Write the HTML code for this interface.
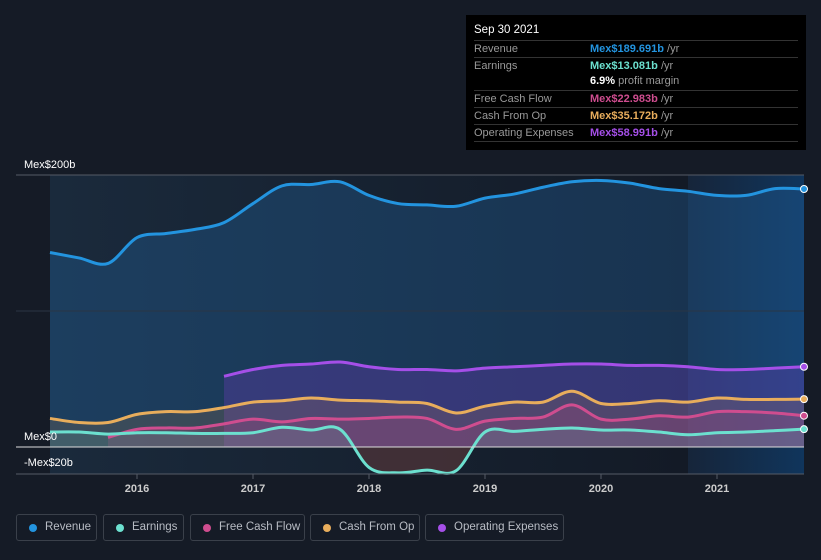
<!DOCTYPE html>
<html><head><meta charset="utf-8"><style>
body{margin:0;background:#151b26;font-family:"Liberation Sans",sans-serif;}
#wrap{position:relative;width:821px;height:560px;overflow:hidden;background:#151b26;}
svg{position:absolute;left:0;top:0}
.tip{position:absolute;left:466px;top:15px;width:340px;height:135px;background:#000;color:#fff;font-size:11px;}
.tip .row{position:absolute;left:8px;width:324px;border-top:1px solid #333;height:16px;line-height:16px;color:#999}
.tip .v{position:absolute;left:116px}
.legend{position:absolute;top:514px;height:27px;border:1px solid #3a404a;border-radius:3px;box-sizing:border-box;color:#b8bcc4;font-size:11.5px;line-height:25px}
.legend i{position:absolute;left:12px;top:9px;width:8px;height:8px;border-radius:50%}
.legend span{position:absolute;left:28px}
</style></head><body>
<div id="wrap">
<svg id="chart" width="821" height="560"></svg>
<div class="tip">
 <div style="position:absolute;left:8px;top:9px;font-size:11.5px">Sep 30 2021</div>
 <div class="row" style="top:25px">Revenue<span class="v"><b style="color:#2394df">Mex$189.691b</b> /yr</span></div>
 <div class="row" style="top:42px">Earnings<span class="v"><b style="color:#6ce0cf">Mex$13.081b</b> /yr</span></div>
 <div class="row" style="top:58px;border-top:none"><span class="v"><b style="color:#fff">6.9%</b> profit margin</span></div>
 <div class="row" style="top:75px">Free Cash Flow<span class="v"><b style="color:#cf4d8f">Mex$22.983b</b> /yr</span></div>
 <div class="row" style="top:92px">Cash From Op<span class="v"><b style="color:#e8ad5c">Mex$35.172b</b> /yr</span></div>
 <div class="row" style="top:109px;border-bottom:1px solid #333">Operating Expenses<span class="v"><b style="color:#a54fe8">Mex$58.991b</b> /yr</span></div>
</div>
<div class="legend" style="left:16px;width:81px"><i style="background:#2394df"></i><span>Revenue</span></div>
<div class="legend" style="left:103px;width:81px"><i style="background:#6ce0cf"></i><span>Earnings</span></div>
<div class="legend" style="left:190px;width:115px"><i style="background:#cf4d8f"></i><span>Free Cash Flow</span></div>
<div class="legend" style="left:310px;width:110px"><i style="background:#e8ad5c"></i><span>Cash From Op</span></div>
<div class="legend" style="left:425px;width:139px"><i style="background:#a54fe8"></i><span>Operating Expenses</span></div>
</div>
<script>
const startYear = 2015.25;
const revenue = [143,139,135,154,157,160,165,179,192,193,195,185,179,178,177,183,186,191,195,196,194,190,188,185,185,190,189.7];
const earnings = [11,11,9.5,10.5,10.5,10,10,10.5,14.5,12.5,13,-15,-19,-17,-17.5,11,11.5,13,14,12.5,12.5,11,9,10.5,11,12,13.1];
const fcfStart = 2015.75;
const fcf = [7,13,14,14,17,20.5,18.5,21,20.5,21,22,21,13,19,21,22,31,20.5,20.5,23,22,26,26,25,23];
const cfo = [21,18,18,24,26,26,29,33,34,36,34.5,34,33,32,25,30,33,33,41,32,32,34,33,36,35,35,35.2];
const opexStart = 2016.75;
const opex = [52,57,60,61,62.5,59,57,57,56,58,59,60,61,61,60,60,59,57,57,58,59];
const yearTicks = [2016,2017,2018,2019,2020,2021];
const yTicks = [200,0,-20];
const yTickLabels = ["Mex$200b","Mex$0","-Mex$20b"];

const NS="http://www.w3.org/2000/svg";
const svg=document.getElementById('chart');
const X=t=>137+(t-2016)*116;
const Y=v=>447-v*1.36;
function el(tag,attrs,parent){const e=document.createElementNS(NS,tag);for(const k in attrs)e.setAttribute(k,attrs[k]);(parent||svg).appendChild(e);return e;}
const defs=el('defs',{});
const g1=el('linearGradient',{id:'bg',x1:0,x2:1,y1:0,y2:0},defs);
el('stop',{offset:0,'stop-color':'#1a2a3c'},g1);el('stop',{offset:1,'stop-color':'#131a26'},g1);
const g2=el('linearGradient',{id:'hl',x1:0,x2:1,y1:0,y2:0},defs);
el('stop',{offset:0,'stop-color':'#16253a'},g2);el('stop',{offset:1,'stop-color':'#10355c'},g2);

let r=el('rect',{x:X(startYear),y:175,width:X(2020.75)-X(startYear),height:299,fill:'url(#bg)'});

r=el('rect',{x:X(2020.75),y:175,width:X(2021.75)-X(2020.75),height:299,fill:'url(#hl)'});


function pts(arr,t0){return arr.map((v,i)=>[X(t0+i*0.25),Y(v)]);}
function curve(p){let d='M'+p[0][0]+','+p[0][1];for(let i=0;i<p.length-1;i++){const p0=p[i-1]||p[i],p1=p[i],p2=p[i+1],p3=p[i+2]||p2;const c1=[p1[0]+(p2[0]-p0[0])/6,p1[1]+(p2[1]-p0[1])/6],c2=[p2[0]-(p3[0]-p1[0])/6,p2[1]-(p3[1]-p1[1])/6];d+=`C${c1[0]},${c1[1]} ${c2[0]},${c2[1]} ${p2[0]},${p2[1]}`;}return d;}
const series=[
 {name:'revenue',arr:revenue,t0:startYear,color:'#2394df',fill:'rgba(35,100,160,0.35)'},
 {name:'operating-expenses',arr:opex,t0:opexStart,color:'#a54fe8',fill:'rgba(120,60,200,0.3)'},
 {name:'cash-from-op',arr:cfo,t0:startYear,color:'#e8ad5c',fill:'rgba(200,140,80,0.18)'},
 {name:'free-cash-flow',arr:fcf,t0:fcfStart,color:'#cf4d8f',fill:'rgba(200,70,130,0.2)'},
 {name:'earnings',arr:earnings,t0:startYear,color:'#6ce0cf',fill:'rgba(110,200,190,0.15)'}];
series.forEach(s=>{
 const p=pts(s.arr,s.t0);const d=curve(p);
 const a=el('path',{d:d+`L${p[p.length-1][0]},${Y(0)}L${p[0][0]},${Y(0)}Z`,fill:s.fill});
 
});
const neg=el('path',{d:curve(pts(earnings,startYear))+`L${X(2021.75)},${Y(0)}L${X(startYear)},${Y(0)}Z`,fill:'rgba(120,30,30,0.35)','clip-path':'url(#negclip)'});
const cp=el('clipPath',{id:'negclip'},defs);el('rect',{x:0,y:Y(0),width:821,height:40},cp);

series.forEach(s=>{
 const p=pts(s.arr,s.t0);
 const l=el('path',{d:curve(p),fill:'none',stroke:s.color,'stroke-width':3});
 
 const c=el('circle',{cx:p[p.length-1][0],cy:p[p.length-1][1],r:3.5,fill:s.color,stroke:'#fff','stroke-width':1});
 
});
yTicks.forEach((v,i)=>{
 if(v!==-20){const gl=el('line',{x1:16,x2:804,y1:Y(v),y2:Y(v),stroke:v===0?'#ddd':'#555b66','stroke-width':1});
 }
 const t=el('text',{x:24,y:v===-20?Y(v)-8:Y(v)-7,fill:'#fff','font-size':11,'font-family':'Liberation Sans'});
 t.textContent=yTickLabels[i];
 
});
const mid=el('line',{x1:16,x2:804,y1:Y(100),y2:Y(100),stroke:'#2a3544','stroke-width':1});

const ax=el('line',{x1:16,x2:804,y1:474,y2:474,stroke:'#555b66','stroke-width':1});

yearTicks.forEach(yr=>{
 const tk=el('line',{x1:X(yr),x2:X(yr),y1:474,y2:479,stroke:'#555b66'});
 
 const t=el('text',{x:X(yr),y:492,fill:'#ccc','font-size':11,'text-anchor':'middle','font-family':'Liberation Sans','font-weight':'bold'});
 t.textContent=yr;
 
});
</script>
</body></html>
